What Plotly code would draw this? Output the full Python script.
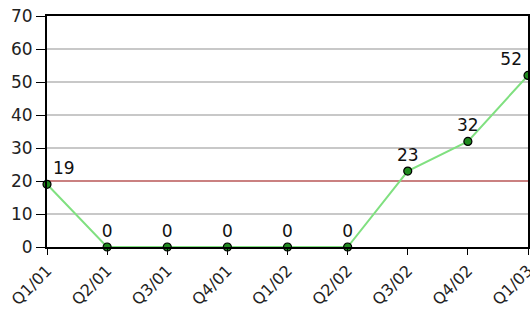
import plotly.graph_objects as go

categories = ["Q1/01", "Q2/01", "Q3/01", "Q4/01", "Q1/02", "Q2/02", "Q3/02", "Q4/02", "Q1/03"]
values = [19, 0, 0, 0, 0, 0, 23, 32, 52]
threshold = 20
y_ticks = [0, 10, 20, 30, 40, 50, 60, 70]

positions = ["top right"] + ["top center"] * (len(values) - 2) + ["top left"]

fig = go.Figure()
fig.add_trace(go.Scatter(
    x=categories, y=[threshold] * len(categories), mode="lines",
    line=dict(color="#cc3b3b", width=1.2), hoverinfo="skip", showlegend=False))
fig.add_trace(go.Scatter(
    x=categories, y=values, mode="lines+markers+text",
    text=[str(v) for v in values], textposition=positions,
    textfont=dict(family="DejaVu Sans", size=17, color="#111"),
    line=dict(color="#80e080", width=2),
    marker=dict(size=8, color="#1f8a1f", line=dict(color="#000", width=1.2)),
    cliponaxis=False, showlegend=False))

fig.update_layout(
    width=530, height=310,
    margin=dict(l=47, r=2, t=16, b=63),
    paper_bgcolor="white", plot_bgcolor="white",
    font=dict(family="DejaVu Sans", size=17, color="#222"),
    xaxis=dict(range=[0, len(categories) - 1], tickangle=-45, showgrid=False,
               ticks="outside", ticklen=6, tickcolor="#000", showline=True,
               linecolor="#000", linewidth=2, mirror=True, zeroline=False,
               automargin=False, tickfont=dict(size=16)),
    yaxis=dict(range=[0, 70], tickvals=y_ticks, showgrid=True, gridcolor="#c8c8c8",
               gridwidth=1.5, ticks="outside", ticklen=9, tickcolor="#000",
               showline=True, linecolor="#000", linewidth=2, mirror=True,
               zeroline=False, automargin=False),
)
fig.write_html("out.html", config={"displayModeBar": False},
               post_script="document.body.style.margin='0';document.body.style.overflow='hidden';")
